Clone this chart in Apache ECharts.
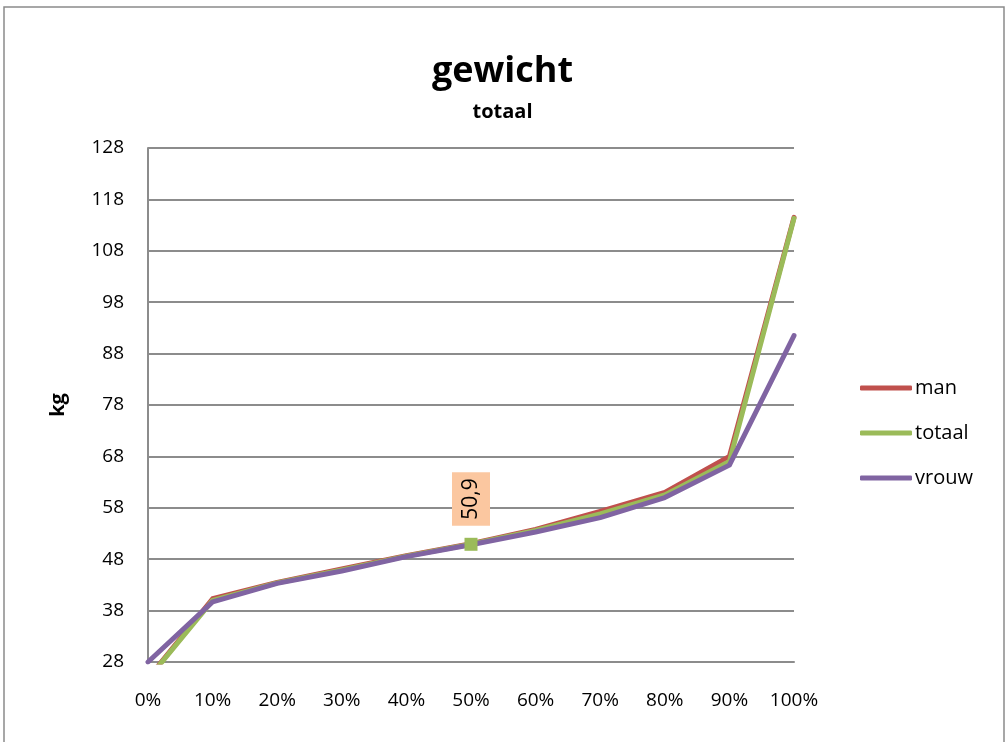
<!DOCTYPE html>
<html>
<head>
<meta charset="utf-8">
<script src="https://cdn.jsdelivr.net/npm/echarts@6/dist/echarts.min.js"></script>
<style>
  html, body { margin: 0; padding: 0; background: #fff; }
  #chart { width: 1005px; height: 742px; }
</style>
</head>
<body>
<div id="chart"></div>
<script>
// Percentiles of body weight (kg)
const categories = ['0%', '10%', '20%', '30%', '40%', '50%', '60%', '70%', '80%', '90%', '100%'];
const manValues    = [24.8, 40.3, 43.5, 46.1, 48.7, 51.0, 53.8, 57.3, 61.0, 68.0, 114.5];
const totaalValues = [24.7, 40.0, 43.4, 45.9, 48.6, 50.9, 53.6, 56.8, 60.5, 67.0, 114.3];
const vrouwValues  = [28.0, 39.7, 43.3, 45.7, 48.5, 50.8, 53.3, 56.1, 60.0, 66.3, 91.5];
const yTicks = { min: 28, max: 128, step: 10 };
const highlightIndex = 5; // labelled point on the totaal line

const fontFamily = 'Open Sans, Noto Sans, sans-serif';
const chart = echarts.init(document.getElementById('chart'));

function withHighlight(values, idx) {
  return values.map((v, i) => i !== idx ? v : {
    value: v,
    symbol: 'rect',
    symbolSize: 13,
    itemStyle: { color: '#9BBB59' },
    label: {
      show: true,
      position: 'top',
      distance: 12,
      rotate: 90,
      align: 'left',
      verticalAlign: 'middle',
      formatter: p => String(p.value).replace('.', ','),
      color: '#000',
      fontFamily: fontFamily,
      fontSize: 21,
      lineHeight: 22,
      backgroundColor: '#fbc7a0',
      padding: [8, 6]
    }
  });
}

const lineSeries = (name, color, values) => ({
  name: name,
  type: 'line',
  data: values,
  symbol: 'none',
  showSymbol: true,
  lineStyle: { color: color, width: 5, cap: 'round', join: 'round' },
  itemStyle: { color: color },
  emphasis: { disabled: true },
  clip: true,
  z: 3
});

chart.setOption({
  animation: false,
  backgroundColor: '#fff',
  title: {
    text: 'gewicht',
    subtext: 'totaal',
    left: 'center',
    top: 49,
    itemGap: 12,
    textStyle: { fontFamily: fontFamily, fontSize: 36, fontWeight: 'bold', color: '#000' },
    subtextStyle: { fontFamily: fontFamily, fontSize: 20, fontWeight: 'bold', color: '#000' }
  },
  legend: {
    orient: 'vertical',
    left: 855,
    top: 373,
    itemWidth: 52,
    itemHeight: 5,
    itemGap: 25,
    icon: 'roundRect',
    textStyle: { fontFamily: fontFamily, fontSize: 20, color: '#000', padding: [0, 0, 0, -2] },
    data: ['man', 'totaal', 'vrouw']
  },
  grid: { left: 148, right: 211, top: 148, bottom: 80, containLabel: false },
  xAxis: {
    type: 'category',
    data: categories,
    boundaryGap: false,
    axisLine: { lineStyle: { color: '#8c8c8c', width: 2 } },
    axisTick: { show: false },
    axisLabel: { interval: 0, hideOverlap: false, fontFamily: fontFamily, fontSize: 19, color: '#000', margin: 29 }
  },
  yAxis: {
    type: 'value',
    min: yTicks.min,
    max: yTicks.max,
    interval: yTicks.step,
    name: 'kg',
    nameLocation: 'middle',
    nameGap: 80,
    nameRotate: 90,
    nameTextStyle: { fontFamily: fontFamily, fontSize: 20, fontWeight: 'bold', color: '#000' },
    axisLine: { show: true, lineStyle: { color: '#8c8c8c', width: 2 } },
    axisTick: { show: false },
    axisLabel: { fontFamily: fontFamily, fontSize: 19, color: '#000', margin: 24 },
    splitLine: { lineStyle: { color: '#8c8c8c', width: 2 } }
  },
  graphic: [{
    type: 'rect',
    shape: { x: 4, y: 7, width: 1000, height: 800 },
    style: { fill: 'none', stroke: '#8a8a8a', lineWidth: 1.5 },
    silent: true,
    z: -1
  }],
  series: [
    lineSeries('man', '#C0504D', manValues),
    lineSeries('totaal', '#9BBB59', withHighlight(totaalValues, highlightIndex)),
    lineSeries('vrouw', '#8064A2', vrouwValues)
  ]
});
</script>
</body>
</html>
